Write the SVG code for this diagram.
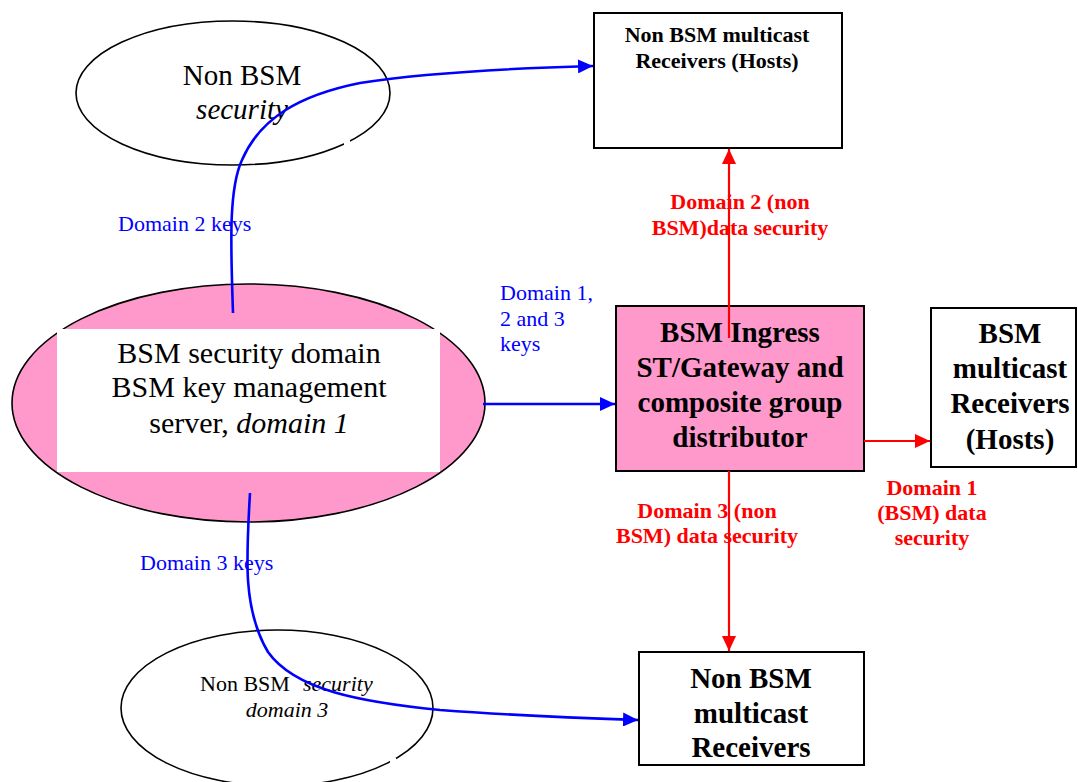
<svg xmlns="http://www.w3.org/2000/svg" width="1078" height="782" viewBox="0 0 1078 782">
<style>
text{font-family:"Liberation Serif","Times New Roman",serif;fill:#000}
.big{font-size:30px}
.mid{font-size:22px}
.bb{font-size:29px;font-weight:bold}
.bs{font-size:22px;font-weight:bold}
.red{fill:#FF0000;font-size:22px;font-weight:bold}
.blue{fill:#0000FF;font-size:22px}
.it{font-style:italic}
.shape{stroke:#000;stroke-width:1.6}
.box{stroke:#000;stroke-width:2}
.bl{fill:none;stroke:#0000FF;stroke-width:2.6}
.rd{fill:none;stroke:#FF0000;stroke-width:2.2}
</style>
<defs>
<marker id="ab" markerUnits="userSpaceOnUse" markerWidth="16" markerHeight="14" refX="15" refY="7" orient="auto"><path d="M0,0 L15,7 L0,14 z" fill="#0000FF"/></marker>
<marker id="ar" markerUnits="userSpaceOnUse" markerWidth="16" markerHeight="14" refX="15" refY="7" orient="auto"><path d="M0,0 L15,7 L0,14 z" fill="#FF0000"/></marker>
</defs>
<rect width="1078" height="782" fill="#fff"/>

<g id="node-nonbsm-security">
<ellipse class="shape" cx="233" cy="93" rx="157" ry="72" fill="#fff"/>
<rect x="344" y="139" width="6" height="6" fill="#fff"/>
<text class="big" x="242" y="85" text-anchor="middle" style="font-size:29px">Non BSM</text>
<text class="big it" x="242" y="119" text-anchor="middle" style="font-size:29px">security</text>
</g>

<g id="node-bsm-kms">
<ellipse class="shape" cx="248.5" cy="403" rx="236.5" ry="119" fill="#FF99CC"/>
<rect x="57" y="329" width="383" height="143" fill="#fff"/>
<text class="big" x="249" y="363" text-anchor="middle">BSM security domain</text>
<text class="big" x="249" y="397" text-anchor="middle">BSM key management</text>
<text class="big" x="249" y="433" text-anchor="middle">server, <tspan class="it">domain 1</tspan></text>
</g>

<g id="node-nonbsm-domain3">
<ellipse class="shape" cx="277" cy="708" rx="156" ry="78" fill="#fff"/>
<rect x="390" y="758" width="6" height="6" fill="#fff"/>
<text class="mid" x="200" y="691">Non BSM<tspan class="it" x="303">security</tspan></text>
<text class="mid it" x="287" y="717" text-anchor="middle">domain 3</text>
</g>

<g id="node-nonbsm-hosts-top">
<rect class="box" x="594" y="13" width="248" height="135" fill="#fff"/>
<text class="bs" x="717" y="42" text-anchor="middle">Non BSM multicast</text>
<text class="bs" x="717" y="68" text-anchor="middle">Receivers (Hosts)</text>
</g>

<g id="node-ingress">
<rect class="box" x="616" y="306" width="248" height="165" fill="#FF99CC"/>
<text class="bb" x="740" y="342" text-anchor="middle">BSM Ingress</text>
<text class="bb" x="740" y="377" text-anchor="middle">ST/Gateway and</text>
<text class="bb" x="740" y="412" text-anchor="middle">composite group</text>
<text class="bb" x="740" y="447" text-anchor="middle">distributor</text>
</g>

<g id="node-bsm-hosts">
<rect class="box" x="931" y="308" width="145" height="159" fill="#fff"/>
<text class="bb" x="1010" y="343" text-anchor="middle">BSM</text>
<text class="bb" x="1010" y="378" text-anchor="middle">multicast</text>
<text class="bb" x="1010" y="413" text-anchor="middle">Receivers</text>
<text class="bb" x="1010" y="449" text-anchor="middle">(Hosts)</text>
</g>

<g id="node-nonbsm-hosts-bottom">
<rect class="box" x="639" y="652" width="225" height="113" fill="#fff"/>
<text class="bb" x="751" y="688" text-anchor="middle">Non BSM</text>
<text class="bb" x="751" y="723" text-anchor="middle">multicast</text>
<text class="bb" x="751" y="757" text-anchor="middle">Receivers</text>
</g>

<g id="connectors">
<path class="bl" d="M233,313 C231,250 228,190 242,160 C260,118 300,95 360,83 C430,72 520,68 593,66" marker-end="url(#ab)"/>
<path class="bl" d="M250,493 C246,560 243,610 268,652 C295,690 360,702 440,710 C520,716 580,718 638,720" marker-end="url(#ab)"/>
<path class="bl" d="M483,404 L615,404" marker-end="url(#ab)"/>
<path class="rd" d="M729,338 L729,149" marker-end="url(#ar)"/>
<path class="rd" d="M729,471 L729,651" marker-end="url(#ar)"/>
<path class="rd" d="M864,441 L930,441" marker-end="url(#ar)"/>
</g>

<g id="labels">
<text class="blue" x="118" y="231">Domain 2 keys</text>
<text class="blue" x="140" y="570">Domain 3 keys</text>
<text class="blue" x="500" y="300">Domain 1,</text>
<text class="blue" x="500" y="326">2 and 3</text>
<text class="blue" x="500" y="351">keys</text>
<text class="red" x="740" y="209" text-anchor="middle">Domain 2 (non</text>
<text class="red" x="740" y="235" text-anchor="middle">BSM)data security</text>
<text class="red" x="707" y="518" text-anchor="middle">Domain 3 (non</text>
<text class="red" x="707" y="543" text-anchor="middle">BSM) data security</text>
<text class="red" x="932" y="495" text-anchor="middle">Domain 1</text>
<text class="red" x="932" y="520" text-anchor="middle">(BSM) data</text>
<text class="red" x="932" y="545" text-anchor="middle">security</text>
</g>
</svg>
